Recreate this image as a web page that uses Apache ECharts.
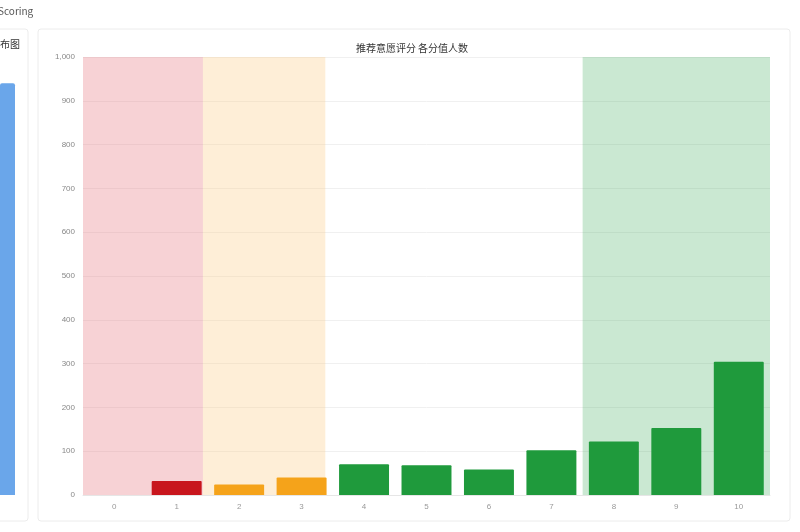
<!DOCTYPE html>
<html>
<head>
<meta charset="utf-8">
<script src="https://cdn.jsdelivr.net/npm/echarts@6/dist/echarts.min.js"></script>
<style>
html,body{margin:0;padding:0;background:#fff;}
#c{width:800px;height:532px;}
</style>
</head>
<body>
<div id="c"></div>
<script>
const categories = ['0','1','2','3','4','5','6','7','8','9','10'];
const counts = [0, 32, 24, 40, 70, 68, 58, 102, 122, 153, 304];
const barColors = ['#c8161d','#c8161d','#f5a31a','#f5a31a','#1f9a3c','#1f9a3c','#1f9a3c','#1f9a3c','#1f9a3c','#1f9a3c','#1f9a3c'];
const yTicks = {min: 0, max: 1000, interval: 100};
const bands = [
  {from: -0.5, to: 1.42, color: 'rgba(232,125,135,0.35)'},
  {from: 1.42, to: 3.38, color: 'rgba(252,205,140,0.35)'},
  {from: 7.5, to: 10.5, color: 'rgba(60,170,90,0.27)'}
];
const leftCategories = ['A'];
const leftValues = [940];
const chartTitle = '推荐意愿评分 各分值人数';

const chart = echarts.init(document.getElementById('c'));
chart.setOption({
  animation: false,
  backgroundColor: '#fff',
  title: {
    text: chartTitle, left: 407, top: 38, textAlign: 'center',
    textStyle: {fontSize: 10, fontWeight: 'normal', color: '#333', fontFamily: 'Noto Sans CJK SC'}
  },
  graphic: [
    {type: 'rect', shape: {x: 38, y: 29, width: 752, height: 492, r: 3}, style: {fill: 'none', stroke: '#ececec', lineWidth: 1}, z: -10},
    {type: 'rect', shape: {x: -20, y: 29, width: 48, height: 492, r: 3}, style: {fill: 'none', stroke: '#ececec', lineWidth: 1}, z: -10},
    {type: 'text', left: -2, top: 6, style: {text: 'Scoring', fontSize: 10, fill: '#555', fontFamily: 'Noto Sans CJK SC'}},
    {type: 'text', left: -10, top: 39, style: {text: '分布图', fontSize: 10, fill: '#333', fontFamily: 'Noto Sans CJK SC'}}
  ],
  grid: [
    {left: 83, right: 30, top: 57, bottom: 37},
    {left: -25, width: 40, top: 57, bottom: 37}
  ],
  xAxis: [
    {
      type: 'category', data: categories, gridIndex: 0,
      axisLine: {lineStyle: {color: '#e6e6e6'}},
      axisTick: {show: false},
      axisLabel: {fontSize: 8, color: '#999', margin: 8}
    },
    {type: 'value', gridIndex: 0, min: -0.5, max: 10.5, show: false},
    {type: 'category', gridIndex: 1, data: leftCategories, show: false}
  ],
  yAxis: [
    {
      type: 'value', gridIndex: 0, min: yTicks.min, max: yTicks.max, interval: yTicks.interval,
      axisLine: {show: false}, axisTick: {show: false},
      splitLine: {lineStyle: {color: '#f0f0f0'}},
      axisLabel: {fontSize: 8, color: '#888', margin: 8}
    },
    {type: 'value', gridIndex: 1, min: 0, max: 1000, show: false}
  ],
  series: [
    {
      type: 'line', xAxisIndex: 1, yAxisIndex: 0, data: [], silent: true,
      markArea: {
        silent: true,
        data: bands.map(b => [{xAxis: b.from, itemStyle: {color: b.color}}, {xAxis: b.to}])
      }
    },
    {
      type: 'bar', xAxisIndex: 0, yAxisIndex: 0, barCategoryGap: '20%',
      data: counts.map((v, i) => ({value: v, itemStyle: {color: barColors[i], borderRadius: [1,1,0,0]}}))
    },
    {
      type: 'bar', xAxisIndex: 2, yAxisIndex: 1, barWidth: 40,
      data: leftValues, itemStyle: {color: '#6aa6ea', borderRadius: [2,2,0,0]}
    }
  ]
});
</script>
</body>
</html>
